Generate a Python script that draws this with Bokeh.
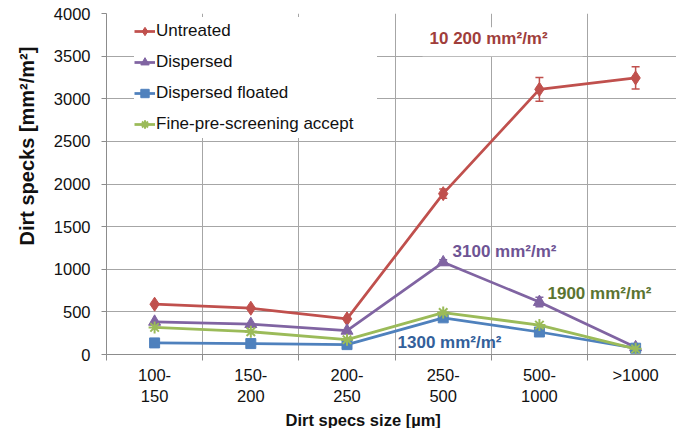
from bokeh.plotting import figure
from bokeh.models import (Range1d, FixedTicker, Legend, LegendItem, Label, Title,
                          Whisker, ColumnDataSource, TeeHead)
from bokeh.embed import file_html
from bokeh.resources import INLINE

# ---------------- data ----------------
categories = ["100-\n150", "150-\n200", "200-\n250", "250-\n500", "500-\n1000", ">1000"]
untreated = [590, 543, 418, 1887, 3110, 3244]
untreated_err = [0, 0, 0, 55, 140, 130]
dispersed = [384, 357, 279, 1081, 616, 85]
dispersed_err = [0, 0, 0, 30, 55, 0]
dispersed_floated = [136, 128, 116, 430, 264, 74]
floated_err = [0, 0, 0, 20, 25, 0]
fine_pre_screening = [318, 267, 174, 492, 345, 66]
y_ticks = list(range(0, 4001, 500))

series_names = ["Untreated", "Dispersed", "Dispersed floated", "Fine-pre-screening accept"]
annotations = ["10 200 mm\u00b2/m\u00b2", "3100 mm\u00b2/m\u00b2", "1900 mm\u00b2/m\u00b2", "1300 mm\u00b2/m\u00b2"]

RED = "#C0504D"
PURPLE = "#8064A2"
BLUE = "#4F81BD"
GREEN = "#9BBB59"
GRID = "#A6A6A6"
AXIS = "#8C8C8C"
FONT = "Liberation Sans"

x = list(range(len(categories)))

p = figure(width=676, height=428,
           x_range=Range1d(-0.5, 5.425), y_range=Range1d(0, 4000),
           output_backend="svg", toolbar_location=None,
           min_border_left=106, min_border_right=0,
           min_border_top=13, min_border_bottom=69)
p.outline_line_color = None
p.background_fill_color = "white"
p.border_fill_color = "white"

# axes
p.xaxis.ticker = FixedTicker(ticks=x, minor_ticks=[i - 0.5 for i in x])
p.xaxis.major_label_overrides = {i: c for i, c in enumerate(categories)}
p.xaxis.major_tick_line_color = None
p.xaxis.minor_tick_line_color = AXIS
p.xaxis.minor_tick_out = 6
p.xaxis.minor_tick_in = 0
p.xaxis.axis_line_color = AXIS
p.xaxis.major_label_text_font = FONT
p.xaxis.major_label_text_font_size = "16.5px"
p.xaxis.major_label_text_color = "#111111"
p.xaxis.major_label_standoff = 5

p.yaxis.ticker = FixedTicker(ticks=y_ticks)
p.yaxis.major_tick_line_color = AXIS
p.yaxis.major_tick_out = 5
p.yaxis.major_tick_in = 0
p.yaxis.minor_tick_line_color = None
p.yaxis.axis_line_color = AXIS
p.yaxis.major_label_text_font = FONT
p.yaxis.major_label_text_font_size = "16.5px"
p.yaxis.major_label_text_color = "#111111"
p.yaxis.major_label_standoff = 11

p.xgrid.ticker = FixedTicker(ticks=[i + 0.5 for i in x[:-1]])
p.xgrid.grid_line_color = GRID
p.ygrid.ticker = FixedTicker(ticks=y_ticks)
p.ygrid.grid_line_color = GRID

# series
series = [
    (untreated, RED, "diamond", 14, untreated_err),
    (dispersed, PURPLE, "triangle", 12, dispersed_err),
    (dispersed_floated, BLUE, "square", 10, floated_err),
    (fine_pre_screening, GREEN, "asterisk", 12, None),
]

items = []
for (vals, col, marker, size, err), name in zip(series, series_names):
    src = ColumnDataSource(dict(x=x, y=vals))
    ln = p.line("x", "y", source=src, line_color=col, line_width=2.75)
    sc = p.scatter("x", "y", source=src, marker=marker, size=size,
                   fill_color=col, line_color=col, line_width=2 if marker == "asterisk" else 1)
    if err is not None:
        ex = [xi for xi, e in zip(x, err) if e > 0]
        ey = [v for v, e in zip(vals, err) if e > 0]
        ee = [e for e in err if e > 0]
        esrc = ColumnDataSource(dict(x=ex,
                                     upper=[v + e for v, e in zip(ey, ee)],
                                     lower=[v - e for v, e in zip(ey, ee)]))
        w = Whisker(base="x", upper="upper", lower="lower", source=esrc,
                    dimension="height", line_color=col, line_width=1.5,
                    upper_head=TeeHead(size=8, line_color=col, line_width=1.5),
                    lower_head=TeeHead(size=8, line_color=col, line_width=1.5))
        p.add_layout(w)
    items.append(LegendItem(label=name, renderers=[ln, sc]))

legend = Legend(items=items, location=(28, 216),
                label_text_font=FONT, label_text_font_size="17px",
                label_text_color="#111111",
                glyph_width=21, glyph_height=28, label_height=28,
                label_width=221, label_standoff=1, spacing=3, padding=4,
                margin=0, border_line_color=None,
                background_fill_color="white", background_fill_alpha=1.0)
p.add_layout(legend, "center")

# annotations
ann_pos = [(2.785, 3670, "#A03E3B"), (3.097, 1209, "#6E5494"),
           (4.084, 721, "#5B7431"), (2.525, 140, "#33609A")]
for i, (txt, (ax, ay, col)) in enumerate(zip(annotations, ann_pos)):
    kw = {}
    if i == 0:
        kw = dict(background_fill_color="white", background_fill_alpha=1.0,
                  padding=dict(left=7, right=35, top=2, bottom=8))
    p.add_layout(Label(x=ax, y=ay, text=txt, text_font=FONT,
                       text_font_size="17px", text_font_style="bold",
                       text_color=col, text_align="left",
                       text_baseline="middle", **kw))

# axis titles
p.add_layout(Title(text="Dirt specks [mm\u00b2/m\u00b2]", align="left", offset=109,
                   standoff=26, text_font=FONT, text_font_size="20px",
                   text_line_height=1.0,
                   text_font_style="bold", text_color="#111111"), "left")
p.add_layout(Title(text="Dirt specs size [\u00b5m]", align="left", offset=179,
                   standoff=0, text_font=FONT, text_font_size="16.5px",
                   text_line_height=0.9,
                   text_font_style="bold", text_color="#111111"), "below")

open("out.html", "w").write(file_html(p, INLINE))
